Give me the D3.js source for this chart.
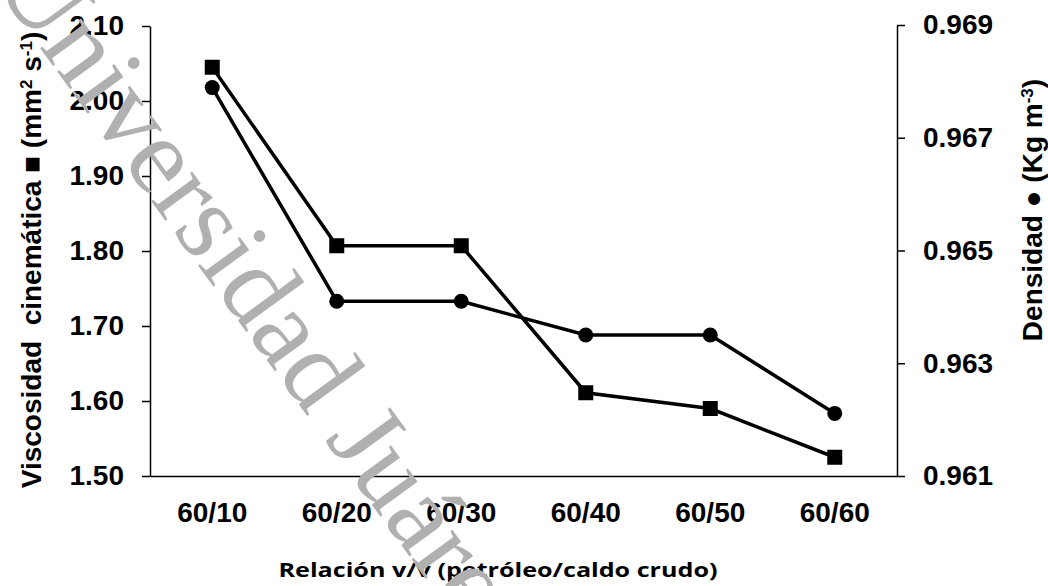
<!DOCTYPE html>
<html>
<head>
<meta charset="utf-8">
<script src="https://cdn.jsdelivr.net/npm/d3@7"></script>
<style>
  body { margin: 0; background: #fff; }
  svg text { font-family: "Liberation Sans", Arial, sans-serif; font-weight: bold; }
  .axis path, .axis line { stroke: #000; stroke-width: 1.5; }
</style>
</head>
<body>
<div id="chart"></div>
<script>
var categories = ["60/10", "60/20", "60/30", "60/40", "60/50", "60/60"];
var viscosity = [2.045, 1.807, 1.807, 1.611, 1.590, 1.525];
var density = [0.96789, 0.96410, 0.96410, 0.96350, 0.96350, 0.96211];
var leftTicks = [1.50, 1.60, 1.70, 1.80, 1.90, 2.00, 2.10];
var rightTicks = [0.961, 0.963, 0.965, 0.967, 0.969];

var width = 1048,
    height = 586;

var x = d3.scaleBand()
    .domain(categories)
    .range([150, 897]);

var yL = d3.scaleLinear()
    .domain([1.50, 2.10])
    .range([476, 26]);

var yR = d3.scaleLinear()
    .domain([0.961, 0.969])
    .range([476, 25]);

var svg = d3.select("#chart").append("svg")
    .attr("width", width)
    .attr("height", height);

// axes
svg.append("g")
    .attr("class", "axis")
    .attr("transform", "translate(150,0)")
    .call(d3.axisLeft(yL).tickValues(leftTicks).tickFormat(d3.format(".2f"))
      .tickSize(8).tickSizeOuter(0).tickPadding(18));

svg.append("g")
    .attr("class", "axis")
    .attr("transform", "translate(897,0)")
    .call(d3.axisRight(yR).tickValues(rightTicks).tickFormat(d3.format(".3f"))
      .tickSize(8).tickSizeOuter(0).tickPadding(18));

svg.append("g")
    .attr("class", "axis")
    .attr("transform", "translate(0,476)")
    .call(d3.axisBottom(x).tickSize(0).tickSizeOuter(0).tickFormat(""));

svg.selectAll(".axis text")
    .attr("fill", "#000")
    .style("font-size", "28px");

// category labels
svg.selectAll(".cat")
    .data(categories)
  .enter().append("text")
    .attr("class", "cat")
    .attr("x", function(d) { return x(d) + x.bandwidth() / 2; })
    .attr("y", 522)
    .attr("text-anchor", "middle")
    .style("font-size", "28px")
    .text(function(d) { return d; });

// lines
var lineL = d3.line()
    .x(function(d, i) { return x(categories[i]) + x.bandwidth() / 2; })
    .y(function(d) { return yL(d); });

var lineR = d3.line()
    .x(function(d, i) { return x(categories[i]) + x.bandwidth() / 2; })
    .y(function(d) { return yR(d); });

svg.append("path")
    .datum(viscosity)
    .attr("fill", "none")
    .attr("stroke", "#000")
    .attr("stroke-width", 3.5)
    .attr("d", lineL);

svg.append("path")
    .datum(density)
    .attr("fill", "none")
    .attr("stroke", "#000")
    .attr("stroke-width", 3.5)
    .attr("d", lineR);

svg.selectAll(".sq")
    .data(viscosity)
  .enter().append("rect")
    .attr("class", "sq")
    .attr("x", function(d, i) { return x(categories[i]) + x.bandwidth() / 2 - 7.5; })
    .attr("y", function(d) { return yL(d) - 7.5; })
    .attr("width", 15)
    .attr("height", 15)
    .attr("fill", "#000");

svg.selectAll(".dot")
    .data(density)
  .enter().append("circle")
    .attr("class", "dot")
    .attr("cx", function(d, i) { return x(categories[i]) + x.bandwidth() / 2; })
    .attr("cy", function(d) { return yR(d); })
    .attr("r", 7.5)
    .attr("fill", "#000");

// axis titles
svg.append("text")
    .attr("transform", "translate(41,260) rotate(-90)")
    .attr("text-anchor", "middle")
    .style("font-size", "28px")
    .html('Viscosidad&#160; cinemática ■ (mm<tspan baseline-shift="super" font-size="17">2</tspan> s<tspan baseline-shift="super" font-size="17">-1</tspan>)');

svg.append("text")
    .attr("transform", "translate(1042,210) rotate(-90)")
    .attr("text-anchor", "middle")
    .style("font-size", "28px")
    .html('Densidad ● (Kg m<tspan baseline-shift="super" font-size="17">-3</tspan>)');

svg.append("text")
    .attr("x", 498)
    .attr("y", 577)
    .attr("text-anchor", "middle")
    .style("font-family", "'Open Sans', sans-serif")
    .style("font-size", "20px")
    .attr("textLength", 439)
    .attr("lengthAdjust", "spacingAndGlyphs")
    .text("Relación  v/v (petróleo/caldo crudo)");

// watermark
svg.append("text")
    .attr("transform", "translate(-8,-18) rotate(54)")
    .style("font-family", "'Liberation Serif', serif")
    .style("font-weight", "normal")
    .style("font-size", "110px")
    .attr("fill", "#b0b0b0")
    .text("Universidad Juárez Autónoma de Tabasco");
</script>
</body>
</html>
